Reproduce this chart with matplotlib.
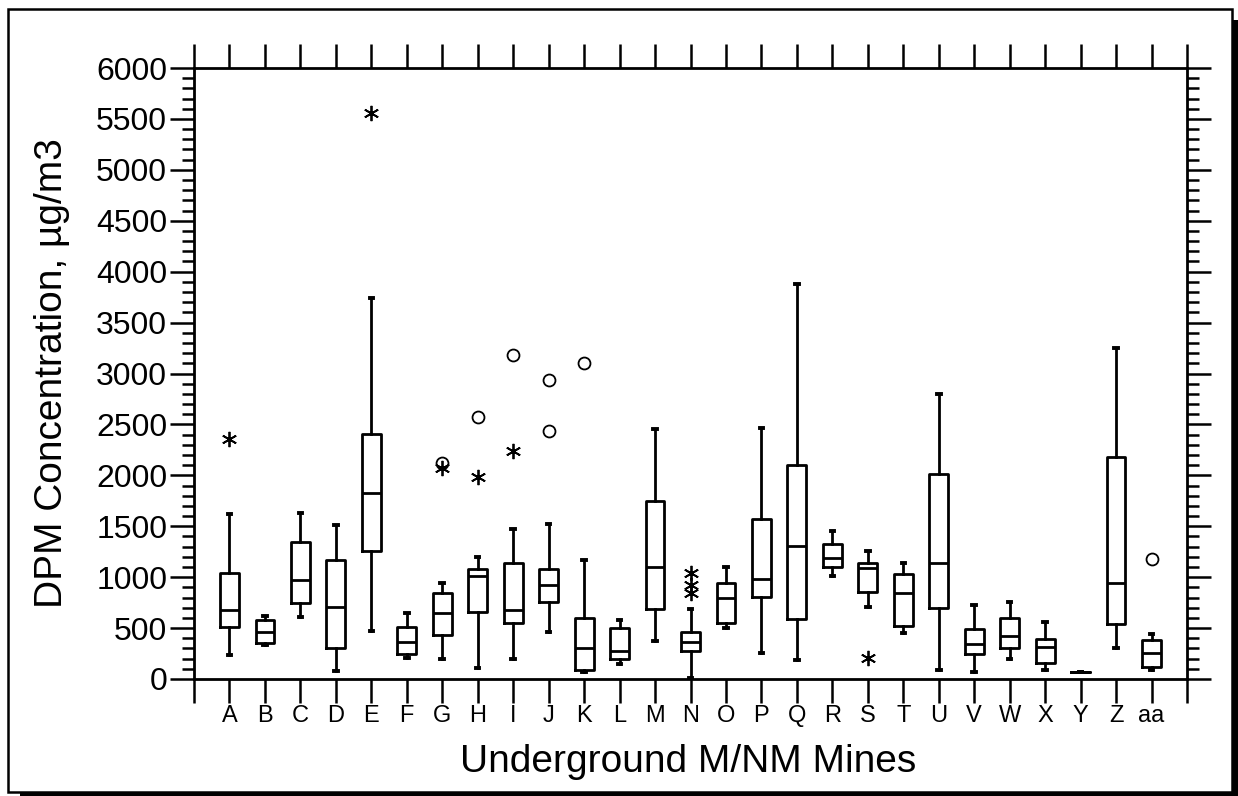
import matplotlib
matplotlib.use("Agg")
import matplotlib.pyplot as plt
from matplotlib.patches import Rectangle
from matplotlib.ticker import MultipleLocator

plt.rcParams['font.family'] = ['Liberation Sans', 'DejaVu Sans']

# ---- data ----
mines = ['A', 'B', 'C', 'D', 'E', 'F', 'G', 'H', 'I', 'J', 'K', 'L', 'M', 'N',
         'O', 'P', 'Q', 'R', 'S', 'T', 'U', 'V', 'W', 'X', 'Y', 'Z', 'aa']
whisker_low = [236, 334, 612, 79, 471, 203, 196, 105, 196, 465, 65, 144, 376, 10,
               498, 258, 187, 1015, 710, 448, 88, 65, 193, 88, 72, 301, 88]
q1 = [507, 357, 750, 301, 1260, 245, 432, 655, 553, 759, 88, 193, 684, 275,
      547, 802, 586, 1097, 854, 520, 700, 242, 308, 160, 72, 540, 121]
median = [678, 465, 972, 710, 1830, 367, 651, 1015, 678, 923, 301, 275, 1103, 367,
          799, 979, 1306, 1185, 1090, 841, 1136, 344, 425, 311, 72, 940, 252]
q3 = [1041, 579, 1345, 1169, 2403, 514, 841, 1077, 1136, 1077, 599, 504, 1745, 465,
      940, 1571, 2104, 1323, 1142, 1028, 2016, 491, 599, 393, 72, 2177, 383]
whisker_high = [1617, 619, 1633, 1515, 3738, 651, 940, 1195, 1473, 1525, 1165, 576, 2452, 684,
                1097, 2468, 3876, 1453, 1260, 1136, 2799, 723, 759, 560, 72, 3247, 442]

circle_mines = ['G', 'H', 'I', 'J', 'J', 'K', 'aa']
circle_values = [2124, 2570, 3182, 2937, 2439, 3100, 1182]
star_mines = ['A', 'E', 'G', 'H', 'I', 'N', 'N', 'N', 'S']
star_values = [2357, 5561, 2075, 1984, 2239, 1038, 923, 848, 203]

y_ticks = list(range(0, 6001, 500))

# ---- figure ----
W, H = 1238, 796
fig = plt.figure(figsize=(W / 100, H / 100), dpi=100)

def fx(x):
    return x / W

def fy(y):
    return 1 - y / H

# frame with drop shadow
fig.patches.append(Rectangle((fx(20), fy(796)), fx(1238) - fx(20), fy(20) - fy(796),
                             transform=fig.transFigure, facecolor='black',
                             edgecolor='none', zorder=-3))
fig.patches.append(Rectangle((fx(8), fy(792)), fx(1232) - fx(8), fy(9) - fy(792),
                             transform=fig.transFigure, facecolor='white',
                             edgecolor='black', linewidth=1.8, zorder=-2))

ax = fig.add_axes([fx(194), fy(679), fx(1187) - fx(194), fy(68) - fy(679)])
ax.set_facecolor('white')

stats = []
for i, m in enumerate(mines):
    stats.append(dict(label=m, whislo=whisker_low[i], q1=q1[i], med=median[i],
                      q3=q3[i], whishi=whisker_high[i], fliers=[]))

lw = 2.0
ax.bxp(stats, positions=list(range(len(mines))), widths=0.53, showfliers=False,
       capwidths=0.1,
       boxprops=dict(color='black', linewidth=lw),
       medianprops=dict(color='black', linewidth=lw),
       whiskerprops=dict(color='black', linewidth=lw),
       capprops=dict(color='black', linewidth=2.8))

ax.plot([mines.index(m) for m in circle_mines], circle_values, linestyle='none',
        marker='o', markersize=8.6, markerfacecolor='none', markeredgecolor='black',
        markeredgewidth=1.3, zorder=4)
ax.plot([mines.index(m) for m in star_mines], star_values, linestyle='none',
        marker=(6, 2, 0), markersize=11, markeredgecolor='black',
        markeredgewidth=1.3, zorder=4)

ax.set_xlim(-1, len(mines))
ax.set_ylim(0, 6000)

ax.set_xticks(list(range(-1, len(mines) + 1)))
ax.set_xticklabels([''] + mines + [''])
ax.set_yticks(y_ticks)
ax.set_yticklabels([str(v) for v in y_ticks])
ax.yaxis.set_minor_locator(MultipleLocator(100))

for s in ax.spines.values():
    s.set_linewidth(2.0)

ax.tick_params(axis='x', which='major', direction='out', length=17.3, width=1.8,
               top=True, bottom=True, labelsize=17, pad=1.5)
ax.tick_params(axis='y', which='major', direction='out', length=17.3, width=1.8,
               left=True, right=True, labelsize=23, pad=2)
ax.tick_params(axis='y', which='minor', direction='out', length=8.3, width=1.8,
               left=True, right=True)

fig.text(fx(688), fy(772), 'Underground M/NM Mines', fontsize=28,
         ha='center', va='baseline')
fig.text(fx(62), fy(373.5), 'DPM Concentration, µg/m3', fontsize=28,
         rotation=90, rotation_mode='anchor', ha='center', va='baseline')

fig.savefig('out.png', dpi=100)
